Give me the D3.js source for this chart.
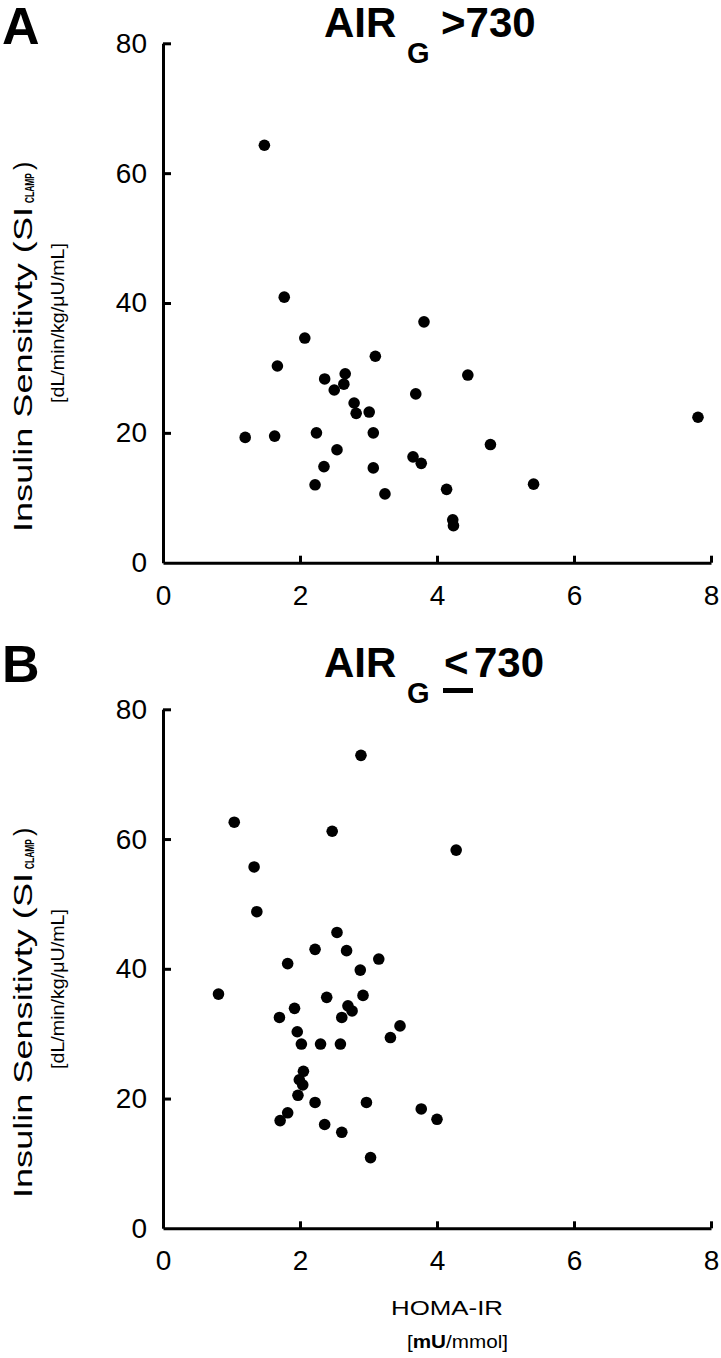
<!DOCTYPE html>
<html>
<head>
<meta charset="utf-8">
<script src="https://cdn.jsdelivr.net/npm/d3@7"></script>
<style>
  html, body { margin: 0; padding: 0; background: #fff; }
  svg { display: block; font-family: "Liberation Sans", Arial, sans-serif; }
</style>
</head>
<body>
<svg id="chart" width="721" height="1358"></svg>
<script>
// ---- data ----
const xTicks = [0, 2, 4, 6, 8];
const yTicks = [0, 20, 40, 60, 80];

// Panel A: AIR_G > 730
const homaA = [1.48, 1.77, 3.81, 2.07, 1.67, 3.10, 4.45, 2.36, 2.66, 2.64, 2.50, 3.69, 2.79, 2.82, 3.01, 7.81,
               1.20, 1.63, 2.24, 3.07, 4.78, 2.54, 3.65, 3.77, 2.35, 3.07, 2.22, 5.41, 3.24, 4.14, 4.23, 4.24];
const siA   = [64.3, 40.9, 37.1, 34.6, 30.3, 31.8, 28.9, 28.3, 29.1, 27.5, 26.6, 26.0, 24.6, 23.0, 23.2, 22.4,
               19.3, 19.5, 20.0, 20.0, 18.2, 17.4, 16.3, 15.3, 14.8, 14.6, 12.0, 12.1, 10.6, 11.3, 6.6, 5.7];

// Panel B: AIR_G <= 730
const homaB = [2.89, 1.04, 2.47, 4.28, 1.33, 1.37, 2.54, 2.22, 2.68, 3.15, 1.82, 2.88, 0.81, 2.39, 2.92, 2.70,
               2.76, 1.92, 1.70, 2.61, 3.46, 3.32, 1.96, 2.02, 2.30, 2.59, 2.05, 1.99, 2.04, 1.97, 2.22, 2.97,
               3.77, 1.82, 1.71, 4.00, 2.36, 2.61, 3.03];
const siB   = [72.9, 62.6, 61.2, 58.3, 55.7, 48.8, 45.6, 43.0, 42.8, 41.5, 40.8, 39.8, 36.1, 35.6, 35.9, 34.3,
               33.5, 33.9, 32.5, 32.5, 31.2, 29.4, 30.3, 28.4, 28.4, 28.4, 24.2, 22.9, 22.1, 20.5, 19.4, 19.4,
               18.4, 17.8, 16.6, 16.8, 16.0, 14.8, 10.9];

const svg = d3.select("#chart");

const X0 = 163, X1 = 711;
const x = d3.scaleLinear().domain([0, 8]).range([X0, X1]);

function panel(opts) {
  const { top, bottom, homa, si, letter, letterY, titleY, subY, le, showX } = opts;
  const y = d3.scaleLinear().domain([0, 80]).range([bottom, top]);
  const g = svg.append("g");

  // y axis
  const ya = g.append("g").attr("transform", `translate(${X0},0)`)
    .call(d3.axisLeft(y).tickValues(yTicks).tickSizeInner(-8).tickSizeOuter(0).tickPadding(16)
      .tickFormat(d3.format("d")));
  // x axis
  const xa = g.append("g").attr("transform", `translate(0,${bottom})`)
    .call(d3.axisBottom(x).tickValues(xTicks).tickSizeInner(-7).tickSizeOuter(0).tickPadding(22)
      .tickFormat(d3.format("d")));
  [ya, xa].forEach(a => {
    a.select(".domain").attr("stroke", "#000").attr("stroke-width", 3);
    a.selectAll(".tick line").attr("stroke", "#000").attr("stroke-width", 3);
    a.selectAll(".tick text").attr("fill", "#000").style("font-size", "28px")
      .style("font-family", "'Liberation Sans', Arial, sans-serif");
  });
  // remove the zero tick marks (corner)
  ya.selectAll(".tick").filter(d => d === 0).select("line").remove();
  xa.selectAll(".tick").filter(d => d === 0).select("line").remove();

  // points
  g.append("g").selectAll("circle")
    .data(homa.map((h, i) => [h, si[i]]))
    .join("circle")
    .attr("cx", d => x(d[0]))
    .attr("cy", d => y(d[1]))
    .attr("r", 5.8)
    .attr("fill", "#000");

  // panel letter
  g.append("text").attr("x", 2).attr("y", letterY)
    .style("font-size", "52px").style("font-weight", "bold").text(letter);

  // title
  g.append("text").attr("x", 324).attr("y", titleY)
    .style("font-size", "42px").style("font-weight", "bold").text("AIR");
  g.append("text").attr("x", 407).attr("y", subY)
    .style("font-size", "29px").style("font-weight", "bold").text("G");
  if (le) {
    g.append("text").attr("x", 444).attr("y", titleY)
      .style("font-size", "42px").style("font-weight", "bold").text("<");
    g.append("rect").attr("x", 443).attr("y", titleY + 11).attr("width", 30).attr("height", 5).attr("fill", "#000");
    g.append("text").attr("x", 474).attr("y", titleY)
      .style("font-size", "42px").style("font-weight", "bold").text("730");
  } else {
    g.append("text").attr("x", 441).attr("y", titleY)
      .style("font-size", "42px").style("font-weight", "bold").text(">730");
  }

  // y-axis title (rotated)
  const off = top - 43.3;
  const yl = g.append("g").attr("transform", `translate(32,${532 + off}) rotate(-90)`);
  yl.append("text").attr("x", 0).attr("y", 0)
    .attr("textLength", 325).attr("lengthAdjust", "spacingAndGlyphs")
    .style("font-size", "25px").text("Insulin Sensitivty (SI");
  yl.append("text").attr("x", 329).attr("y", 1.5)
    .attr("textLength", 30).attr("lengthAdjust", "spacingAndGlyphs")
    .style("font-size", "13px").style("font-weight", "bold").text("CLAMP");
  yl.append("text").attr("x", 362).attr("y", 0)
    .style("font-size", "25px").text(")");
  const yl2 = g.append("g").attr("transform", `translate(64,${403 + off}) rotate(-90)`);
  yl2.append("text").attr("x", 0).attr("y", 0)
    .attr("textLength", 160).attr("lengthAdjust", "spacingAndGlyphs")
    .style("font-size", "18px").text("[dL/min/kg/μU/mL]");

  if (showX) {
    g.append("text").attr("x", 447).attr("y", 1315).attr("text-anchor", "middle")
      .attr("textLength", 112).attr("lengthAdjust", "spacingAndGlyphs")
      .style("font-size", "21px").text("HOMA-IR");
    const t = g.append("text").attr("x", 407).attr("y", 1348)
      .attr("textLength", 101).attr("lengthAdjust", "spacingAndGlyphs")
      .style("font-size", "18px");
    t.append("tspan").text("[");
    t.append("tspan").style("font-weight", "bold").text("mU");
    t.append("tspan").text("/mmol]");
  }
}

panel({ top: 43.3, bottom: 562.7, homa: homaA, si: siA, letter: "A", letterY: 44, titleY: 37, subY: 63, le: false, showX: false });
panel({ top: 709.3, bottom: 1228.3, homa: homaB, si: siB, letter: "B", letterY: 682, titleY: 677, subY: 703, le: true, showX: true });
</script>
</body>
</html>
